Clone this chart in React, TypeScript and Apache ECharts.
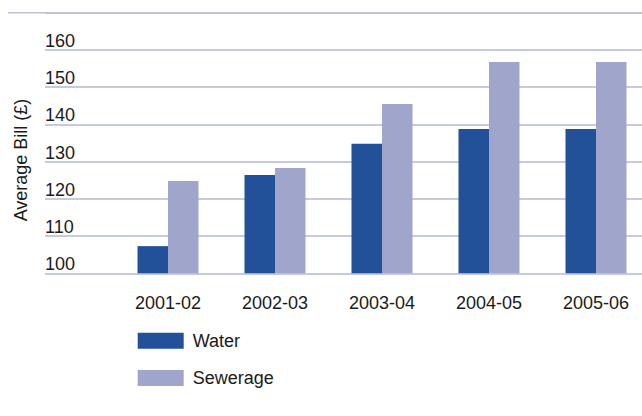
import React, { useEffect, useRef } from "react";
import * as echarts from "echarts";

const categories = ["2001-02", "2002-03", "2003-04", "2004-05", "2005-06"];
const water = [107.3, 126.4, 134.8, 138.8, 138.8];
const sewerage = [124.8, 128.3, 145.5, 156.8, 156.8];
const yMin = 100;
const yMax = 170;
const yStep = 10;

const FONT = "'Liberation Sans', Arial, Helvetica, sans-serif";

export default function App() {
  const ref = useRef<HTMLDivElement>(null);
  useEffect(() => {
    if (!ref.current) return;
    const chart = echarts.init(ref.current, undefined, { renderer: "svg" });
    const gridTop = 12.8;
    const gridHeight = 260.5;
    chart.setOption({
      animation: false,
      backgroundColor: "#ffffff",
      textStyle: { fontFamily: FONT },
      grid: [
        { left: 45, right: 0, top: gridTop, height: gridHeight, outerBoundsMode: "none" },
        { left: 114.5, width: 535, top: gridTop, height: gridHeight, outerBoundsMode: "none" },
      ],
      xAxis: [
        { gridIndex: 0, type: "value", min: 0, max: 1, show: false },
        {
          gridIndex: 1,
          type: "category",
          data: categories,
          axisLine: { show: false },
          axisTick: { show: false },
          axisLabel: { color: "#1a1a1a", fontSize: 18, margin: 21, fontFamily: FONT },
        },
      ],
      yAxis: [
        {
          gridIndex: 0,
          type: "value",
          min: yMin,
          max: yMax,
          interval: yStep,
          axisLine: { show: false },
          axisTick: { show: false },
          splitLine: { show: true, lineStyle: { color: "#b3b7d8", width: 1.5 } },
          axisLabel: {
            inside: true,
            margin: 0,
            align: "left",
            verticalAlign: "bottom",
            color: "#1a1a1a",
            fontSize: 18,
            fontFamily: FONT,
            formatter: (v: number) => (v === yMax ? "" : String(v)),
          },
        },
        { gridIndex: 1, type: "value", min: yMin, max: yMax, interval: yStep, show: false },
      ],
      legend: {
        orient: "vertical",
        left: 137.7,
        top: 331.7,
        padding: 0,
        itemWidth: 46,
        itemHeight: 16,
        itemGap: 19.3,
        icon: "rect",
        textStyle: { color: "#1a1a1a", fontSize: 18, fontFamily: FONT, padding: [0, 0, 0, 4] },
        data: ["Water", "Sewerage"],
      },
      graphic: [
        {
          type: "line",
          shape: { x1: 8, y1: gridTop, x2: 642, y2: gridTop },
          style: { stroke: "#bdbfdc", lineWidth: 1.5 },
          z: 10,
        },
        {
          type: "text",
          x: 21,
          y: 160,
          rotation: Math.PI / 2,
          style: {
            text: "Average Bill (£)",
            fill: "#1a1a1a",
            font: `18px ${FONT}`,
            align: "center",
            verticalAlign: "middle",
          },
        },
      ],
      series: [
        {
          name: "Water",
          type: "bar",
          xAxisIndex: 1,
          yAxisIndex: 1,
          data: water,
          barWidth: 30.5,
          barGap: "0%",
          itemStyle: { color: "#22519a" },
        },
        {
          name: "Sewerage",
          type: "bar",
          xAxisIndex: 1,
          yAxisIndex: 1,
          data: sewerage,
          barWidth: 30.5,
          barGap: "0%",
          itemStyle: { color: "#9fa5cb" },
        },
      ],
    });
    return () => chart.dispose();
  }, []);
  return (
    <div
      ref={ref}
      style={{ position: "absolute", left: 0, top: 0, width: 642, height: 416 }}
    />
  );
}
